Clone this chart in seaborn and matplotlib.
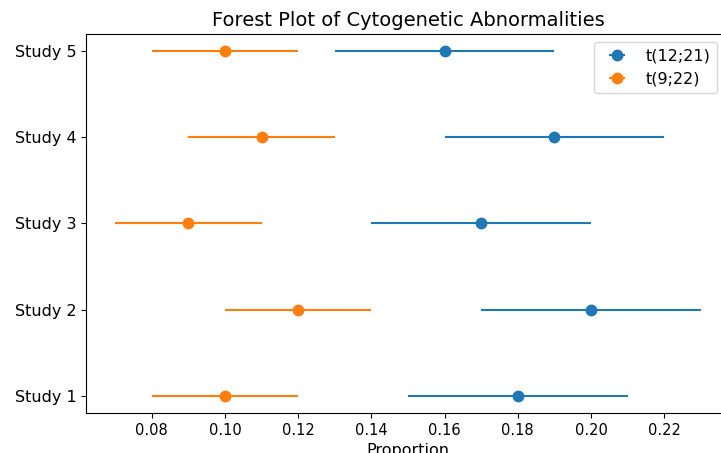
import numpy as np
import matplotlib
matplotlib.use("Agg")
import matplotlib.pyplot as plt
import seaborn as sns

# ── Datos ─────────────────────────────────────────────────
studies = ["Study 1", "Study 2", "Study 3", "Study 4", "Study 5"]
series_names = ["t(12;21)", "t(9;22)"]

t1221_est = [0.18, 0.20, 0.17, 0.19, 0.16]
t1221_lo  = [0.15, 0.17, 0.14, 0.16, 0.13]
t1221_hi  = [0.21, 0.23, 0.20, 0.22, 0.19]

t922_est = [0.10, 0.12, 0.09, 0.11, 0.10]
t922_lo  = [0.08, 0.10, 0.07, 0.09, 0.08]
t922_hi  = [0.12, 0.14, 0.11, 0.13, 0.12]

PALETTE = sns.color_palette("tab10")

plt.rcParams["font.family"] = "DejaVu Sans"

fig = plt.figure(figsize=(7.21, 4.53), dpi=100)
# the reference is cropped on the right, so the axes run past the figure edge
ax = fig.add_axes([86 / 721, 40 / 453, 644 / 721, 379 / 453])

ypos = np.arange(len(studies))
for name, est, lo, hi, color in [
    (series_names[0], t1221_est, t1221_lo, t1221_hi, PALETTE[0]),
    (series_names[1], t922_est, t922_lo, t922_hi, PALETTE[1]),
]:
    est = np.array(est)
    xerr = [est - np.array(lo), np.array(hi) - est]
    ax.errorbar(est, ypos, xerr=xerr, fmt="o", color=color,
                markersize=7.5, linewidth=1.5, label=name)

ax.set_yticks(ypos)
ax.set_yticklabels(studies)
ax.tick_params(axis="x", labelsize=10.5)
ax.tick_params(axis="y", labelsize=11.5)
ax.set_xlabel("Proportion", fontsize=11.5)
ax.set_title("Forest Plot of Cytogenetic Abnormalities", fontsize=14)
ax.legend(loc="upper right", bbox_to_anchor=(0.992, 1.0), fontsize=11.5)

fig.savefig("out.png", dpi=100)
